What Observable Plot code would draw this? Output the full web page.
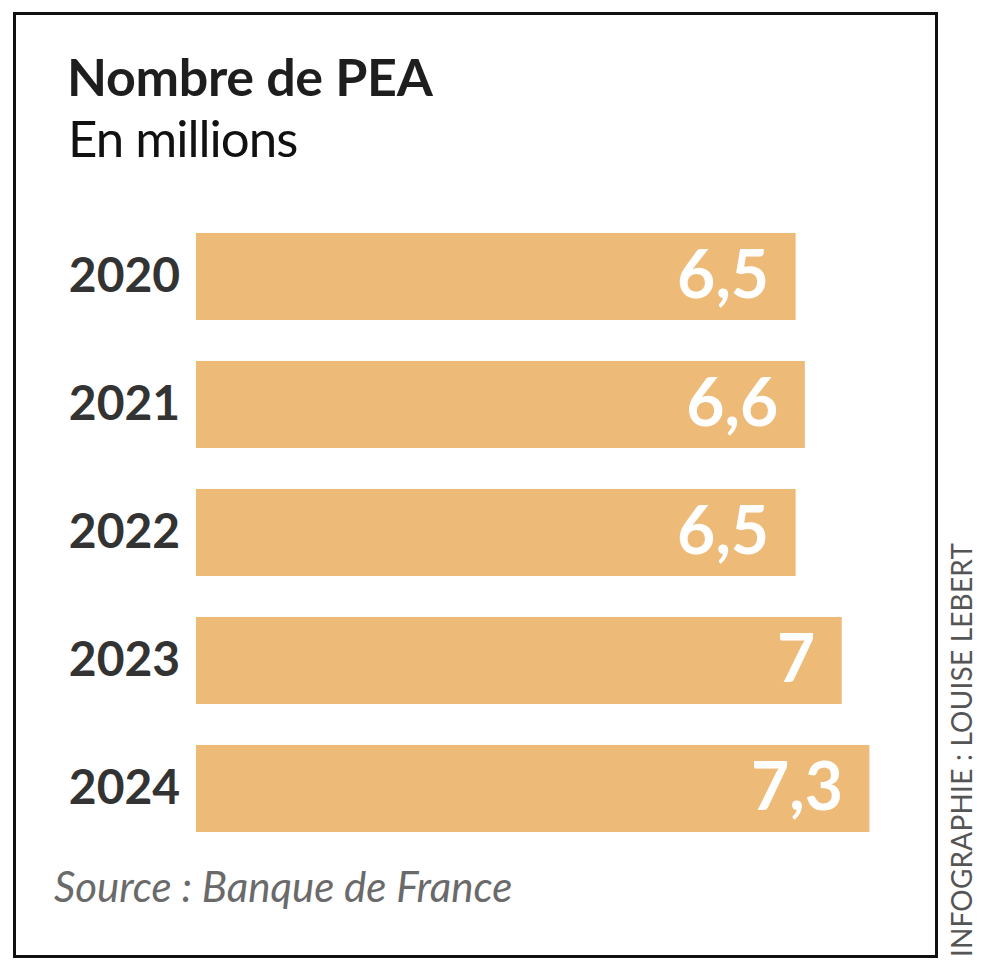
<!DOCTYPE html>
<html>
<head>
<meta charset="utf-8">
<script src="https://cdn.jsdelivr.net/npm/d3@7"></script>
<script src="https://cdn.jsdelivr.net/npm/@observablehq/plot@0.6"></script>
<style>
  html, body { margin: 0; padding: 0; background: #fff; width: 1000px; height: 974px; overflow: hidden; }
  body { position: relative; font-family: Lato, "Open Sans", sans-serif; }
  #frame { position: absolute; left: 13px; top: 12px; width: 919px; height: 940px; border: 3px solid #111; }
  #title { position: absolute; left: 67px; top: 45px; font-size: 52px; font-weight: 700; color: #1e1e1e; letter-spacing: -0.3px; line-height: 62px; white-space: nowrap; }
  #subtitle { position: absolute; left: 68px; top: 107px; font-size: 51px; font-weight: 400; color: #111; letter-spacing: -1px; line-height: 62px; white-space: nowrap; }
  #chart { position: absolute; left: 0; top: 200px; }
  #source { position: absolute; left: 54px; top: 861px; font-size: 42px; font-style: italic; color: #6a6a6a; white-space: nowrap; }
  #credit { position: absolute; left: 961px; top: 750px; transform: translate(-50%, -50%) rotate(-90deg); font-size: 28px; color: #555; white-space: nowrap; letter-spacing: 0.2px; }
</style>
</head>
<body>
<div id="frame"></div>
<div id="title">Nombre de PEA</div>
<div id="subtitle">En millions</div>
<div id="chart"></div>
<div id="source">Source : Banque de France</div>
<div id="credit">INFOGRAPHIE : LOUISE LEBERT</div>
<script>
const years = ["2020", "2021", "2022", "2023", "2024"];
const values = [6.5, 6.6, 6.5, 7.0, 7.3];
const labels = ["6,5", "6,6", "6,5", "7", "7,3"];

const data = years.map((y, i) => ({year: y, value: values[i], label: labels[i]}));

const chart = Plot.plot({
  width: 1000,
  height: 660,
  marginLeft: 196,
  marginRight: 66,
  marginTop: 11.25,
  marginBottom: 6.25,
  style: {fontFamily: "Lato, 'Open Sans', sans-serif", background: "transparent"},
  x: {domain: [0, 8], axis: null},
  y: {domain: years, padding: 0.323, paddingOuter: 0.1615, label: null},
  marks: [
    Plot.barX(data, {y: "year", x: "value", fill: "#EEBA78"}),
    Plot.axisY({tickSize: 0, tickPadding: 0, textAnchor: "middle", dx: -72, fontSize: 48, fontWeight: 700, fill: "#333", label: null}),
    Plot.text(data, {y: "year", x: "value", text: "label", textAnchor: "end", dx: -27, fill: "white", fontSize: 66, fontWeight: 700})
  ]
});
document.getElementById("chart").appendChild(chart);
</script>
</body>
</html>
